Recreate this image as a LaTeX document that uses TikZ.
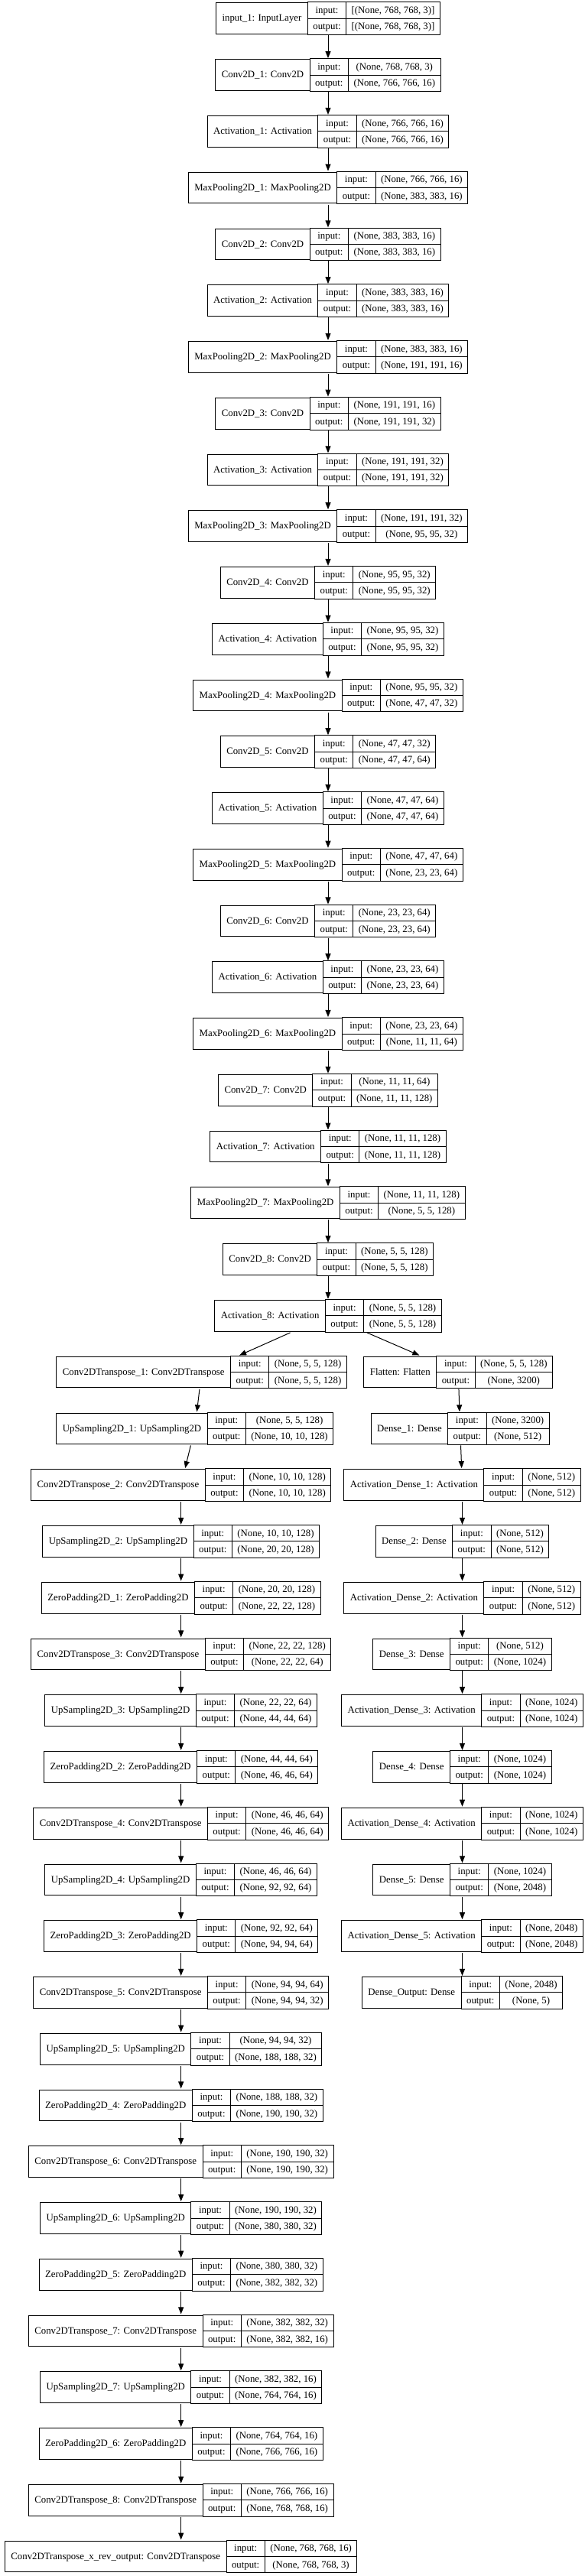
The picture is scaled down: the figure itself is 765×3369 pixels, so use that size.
\documentclass[tikz,border=0pt]{standalone}
\usepackage{fontspec}
\setmainfont{Liberation Serif}
\usetikzlibrary{shapes.multipart,arrows.meta}
\newcommand\lbl{\rule[-6.35pt]{0pt}{20.35pt}}
\newcommand\layer[6]{%
  \matrix[layerbox] (#1) at (#2,{24.35+73.76*#3}) {%
    \node[namecell]{#4}; \& \node[splitcell]{\lbl input:\nodepart{two}\lbl output:}; \& \node[splitcell]{\lbl #5\nodepart{two}\lbl #6}; \\};}
\begin{document}
\begin{tikzpicture}[x=1pt,y=-1pt,font=\fontsize{12.8}{15}\selectfont,
  layerbox/.style={matrix, inner sep=0pt, column sep=-1pt, ampersand replacement=\&},
  namecell/.style={draw, line width=1pt, inner xsep=8pt, inner ysep=0pt, text height=24pt, text depth=16.7pt},
  splitcell/.style={draw, line width=1pt, rectangle split, rectangle split parts=2, inner xsep=7pt, inner ysep=0pt},
  arr/.style={line width=1pt, -{Triangle[length=9pt,width=7pt]}}]
\useasboundingbox (0,0) rectangle (765,3369);
% encoder
\layer{e0}{429}{0}{input\_1: InputLayer}{[(None, 768, 768, 3)]}{[(None, 768, 768, 3)]}
\layer{e1}{429}{1}{Conv2D\_1: Conv2D}{(None, 768, 768, 3)}{(None, 766, 766, 16)}
\layer{e2}{429}{2}{Activation\_1: Activation}{(None, 766, 766, 16)}{(None, 766, 766, 16)}
\layer{e3}{429}{3}{MaxPooling2D\_1: MaxPooling2D}{(None, 766, 766, 16)}{(None, 383, 383, 16)}
\layer{e4}{429}{4}{Conv2D\_2: Conv2D}{(None, 383, 383, 16)}{(None, 383, 383, 16)}
\layer{e5}{429}{5}{Activation\_2: Activation}{(None, 383, 383, 16)}{(None, 383, 383, 16)}
\layer{e6}{429}{6}{MaxPooling2D\_2: MaxPooling2D}{(None, 383, 383, 16)}{(None, 191, 191, 16)}
\layer{e7}{429}{7}{Conv2D\_3: Conv2D}{(None, 191, 191, 16)}{(None, 191, 191, 32)}
\layer{e8}{429}{8}{Activation\_3: Activation}{(None, 191, 191, 32)}{(None, 191, 191, 32)}
\layer{e9}{429}{9}{MaxPooling2D\_3: MaxPooling2D}{(None, 191, 191, 32)}{(None, 95, 95, 32)}
\layer{e10}{429}{10}{Conv2D\_4: Conv2D}{(None, 95, 95, 32)}{(None, 95, 95, 32)}
\layer{e11}{429}{11}{Activation\_4: Activation}{(None, 95, 95, 32)}{(None, 95, 95, 32)}
\layer{e12}{429}{12}{MaxPooling2D\_4: MaxPooling2D}{(None, 95, 95, 32)}{(None, 47, 47, 32)}
\layer{e13}{429}{13}{Conv2D\_5: Conv2D}{(None, 47, 47, 32)}{(None, 47, 47, 64)}
\layer{e14}{429}{14}{Activation\_5: Activation}{(None, 47, 47, 64)}{(None, 47, 47, 64)}
\layer{e15}{429}{15}{MaxPooling2D\_5: MaxPooling2D}{(None, 47, 47, 64)}{(None, 23, 23, 64)}
\layer{e16}{429}{16}{Conv2D\_6: Conv2D}{(None, 23, 23, 64)}{(None, 23, 23, 64)}
\layer{e17}{429}{17}{Activation\_6: Activation}{(None, 23, 23, 64)}{(None, 23, 23, 64)}
\layer{e18}{429}{18}{MaxPooling2D\_6: MaxPooling2D}{(None, 23, 23, 64)}{(None, 11, 11, 64)}
\layer{e19}{429}{19}{Conv2D\_7: Conv2D}{(None, 11, 11, 64)}{(None, 11, 11, 128)}
\layer{e20}{429}{20}{Activation\_7: Activation}{(None, 11, 11, 128)}{(None, 11, 11, 128)}
\layer{e21}{429}{21}{MaxPooling2D\_7: MaxPooling2D}{(None, 11, 11, 128)}{(None, 5, 5, 128)}
\layer{e22}{429}{22}{Conv2D\_8: Conv2D}{(None, 5, 5, 128)}{(None, 5, 5, 128)}
\layer{e23}{429}{23}{Activation\_8: Activation}{(None, 5, 5, 128)}{(None, 5, 5, 128)}
% decoder
\layer{d0}{263.6}{24}{Conv2DTranspose\_1: Conv2DTranspose}{(None, 5, 5, 128)}{(None, 5, 5, 128)}
\layer{d1}{254.8}{25}{UpSampling2D\_1: UpSampling2D}{(None, 5, 5, 128)}{(None, 10, 10, 128)}
\layer{d2}{236.7}{26}{Conv2DTranspose\_2: Conv2DTranspose}{(None, 10, 10, 128)}{(None, 10, 10, 128)}
\layer{d3}{236.7}{27}{UpSampling2D\_2: UpSampling2D}{(None, 10, 10, 128)}{(None, 20, 20, 128)}
\layer{d4}{236.7}{28}{ZeroPadding2D\_1: ZeroPadding2D}{(None, 20, 20, 128)}{(None, 22, 22, 128)}
\layer{d5}{236.7}{29}{Conv2DTranspose\_3: Conv2DTranspose}{(None, 22, 22, 128)}{(None, 22, 22, 64)}
\layer{d6}{236.7}{30}{UpSampling2D\_3: UpSampling2D}{(None, 22, 22, 64)}{(None, 44, 44, 64)}
\layer{d7}{236.7}{31}{ZeroPadding2D\_2: ZeroPadding2D}{(None, 44, 44, 64)}{(None, 46, 46, 64)}
\layer{d8}{236.7}{32}{Conv2DTranspose\_4: Conv2DTranspose}{(None, 46, 46, 64)}{(None, 46, 46, 64)}
\layer{d9}{236.7}{33}{UpSampling2D\_4: UpSampling2D}{(None, 46, 46, 64)}{(None, 92, 92, 64)}
\layer{d10}{236.7}{34}{ZeroPadding2D\_3: ZeroPadding2D}{(None, 92, 92, 64)}{(None, 94, 94, 64)}
\layer{d11}{236.7}{35}{Conv2DTranspose\_5: Conv2DTranspose}{(None, 94, 94, 64)}{(None, 94, 94, 32)}
\layer{d12}{236.7}{36}{UpSampling2D\_5: UpSampling2D}{(None, 94, 94, 32)}{(None, 188, 188, 32)}
\layer{d13}{236.7}{37}{ZeroPadding2D\_4: ZeroPadding2D}{(None, 188, 188, 32)}{(None, 190, 190, 32)}
\layer{d14}{236.7}{38}{Conv2DTranspose\_6: Conv2DTranspose}{(None, 190, 190, 32)}{(None, 190, 190, 32)}
\layer{d15}{236.7}{39}{UpSampling2D\_6: UpSampling2D}{(None, 190, 190, 32)}{(None, 380, 380, 32)}
\layer{d16}{236.7}{40}{ZeroPadding2D\_5: ZeroPadding2D}{(None, 380, 380, 32)}{(None, 382, 382, 32)}
\layer{d17}{236.7}{41}{Conv2DTranspose\_7: Conv2DTranspose}{(None, 382, 382, 32)}{(None, 382, 382, 16)}
\layer{d18}{236.7}{42}{UpSampling2D\_7: UpSampling2D}{(None, 382, 382, 16)}{(None, 764, 764, 16)}
\layer{d19}{236.7}{43}{ZeroPadding2D\_6: ZeroPadding2D}{(None, 764, 764, 16)}{(None, 766, 766, 16)}
\layer{d20}{236.7}{44}{Conv2DTranspose\_8: Conv2DTranspose}{(None, 766, 766, 16)}{(None, 768, 768, 16)}
\layer{d21}{236.7}{45}{Conv2DTranspose\_x\_rev\_output: Conv2DTranspose}{(None, 768, 768, 16)}{(None, 768, 768, 3)}
% dense branch
\layer{r0}{599.2}{24}{Flatten: Flatten}{(None, 5, 5, 128)}{(None, 3200)}
\layer{r1}{601.7}{25}{Dense\_1: Dense}{(None, 3200)}{(None, 512)}
\layer{r2}{604.5}{26}{Activation\_Dense\_1: Activation}{(None, 512)}{(None, 512)}
\layer{r3}{604.5}{27}{Dense\_2: Dense}{(None, 512)}{(None, 512)}
\layer{r4}{604.5}{28}{Activation\_Dense\_2: Activation}{(None, 512)}{(None, 512)}
\layer{r5}{604.5}{29}{Dense\_3: Dense}{(None, 512)}{(None, 1024)}
\layer{r6}{604.5}{30}{Activation\_Dense\_3: Activation}{(None, 1024)}{(None, 1024)}
\layer{r7}{604.5}{31}{Dense\_4: Dense}{(None, 1024)}{(None, 1024)}
\layer{r8}{604.5}{32}{Activation\_Dense\_4: Activation}{(None, 1024)}{(None, 1024)}
\layer{r9}{604.5}{33}{Dense\_5: Dense}{(None, 1024)}{(None, 2048)}
\layer{r10}{604.5}{34}{Activation\_Dense\_5: Activation}{(None, 2048)}{(None, 2048)}
\layer{r11}{604.5}{35}{Dense\_Output: Dense}{(None, 2048)}{(None, 5)}
% connectors
\foreach \i [evaluate=\i as \j using int(\i+1)] in {0,...,22} {\draw[arr] (e\i) -- (e\j);}
\draw[arr] (e23) -- (d0);
\draw[arr] (e23) -- (r0);
\foreach \i [evaluate=\i as \j using int(\i+1)] in {0,...,20} {\draw[arr] (d\i) -- (d\j);}
\foreach \i [evaluate=\i as \j using int(\i+1)] in {0,...,10} {\draw[arr] (r\i) -- (r\j);}
\end{tikzpicture}
\end{document}
